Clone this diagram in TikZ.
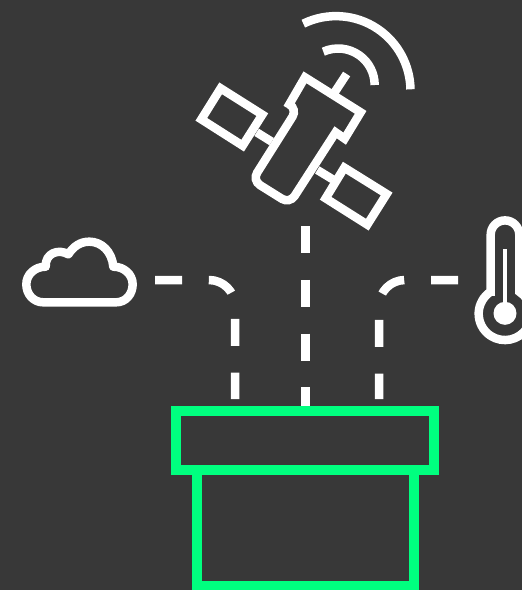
\documentclass[tikz,border=0pt]{standalone}
\definecolor{bgdark}{HTML}{383838}
\definecolor{mint}{HTML}{00FF7F}
\tikzset{
  icon/.style={draw=white,line width=8.5pt,line join=miter,fill=none},
  signal/.style={draw=white,line width=8.5pt,dash pattern=on 27pt off 26.8pt},
  box/.style={draw=mint,line width=10pt,line join=miter}
}
\begin{document}
\begin{tikzpicture}[x=1pt,y=-1pt]
\useasboundingbox (0,0) rectangle (522,590);
\fill[bgdark] (0,0) rectangle (522,590);
% connectors
\coordinate (cloudEnd) at (155,280);
\coordinate (leftEnd) at (235,399);
\coordinate (thermoEnd) at (458,280);
\coordinate (rightEnd) at (379,399);
\coordinate (satEnd) at (305.3,226);
\coordinate (boxTop) at (305.3,406);
\draw[signal,rounded corners=26pt] (cloudEnd) -- (235,280) -- (leftEnd);
\draw[signal,rounded corners=26pt] (thermoEnd) -- (379,280) -- (rightEnd);
\draw[signal] (satEnd) -- (boxTop);
% green boxes
\draw[box] (196.7,470) -- (196.7,585.7) -- (414,585.7) -- (414,470);
\draw[box] (176.3,410.5) rectangle (434.3,470.3);
% satellite (coordinates in 1/3 px)
\begin{scope}[shift={(190,0)},x=0.3333pt,y=-0.3333pt]
  \draw[icon] (345,232) -- (512,337) -- (464,416) -- (437,397)
    [rounded corners=9pt] -- (299,611) -- (187,541) -- (322,327)
    [sharp corners] -- (298,313) -- cycle;
  \draw[icon] (92,265) -- (217,344) -- (158,437) -- (34,358) -- cycle;
  \draw[icon] (463,503) -- (590,582) -- (532,674) -- (407,595) -- cycle;
  \draw[icon] (200,397) -- (245,425);
  \draw[icon] (382,510) -- (428,538);
  \draw[icon] (470,222) -- (432,280);
  \draw[icon] (340,71) arc[start angle=116,end angle=1,radius=74.5pt];
  \draw[icon] (400,155) arc[start angle=114,end angle=0,radius=36.5pt];
\end{scope}
% cloud (coordinates in 1/3 px)
\begin{scope}[shift={(0,220)},x=0.3333pt,y=-0.3333pt]
  \draw[icon,line join=round]
    (130,247) -- (348,247)
    .. controls (378,247) and (398,222) .. (398,193)
    .. controls (398,163) and (372,140) .. (340,140)
    .. controls (336,95) and (305,65) .. (268,65)
    .. controls (240,65) and (220,80) .. (205,103)
    .. controls (175,85) and (135,100) .. (137,140)
    .. controls (105,140) and (79,163) .. (79,193)
    .. controls (79,222) and (100,247) .. (130,247) -- cycle;
\end{scope}
% thermometer
\draw[icon] (490.7,291.7) -- (490.7,234.7) arc[start angle=180,end angle=0,radius=14.3pt] -- (519.3,291.7)
  arc[start angle=57,end angle=-237,radius=26.3pt] -- cycle;
\draw[white,line width=4pt] (505,249) -- (505,313);
\fill[white] (505,313.3) circle[radius=11.5pt];
\end{tikzpicture}
\end{document}
